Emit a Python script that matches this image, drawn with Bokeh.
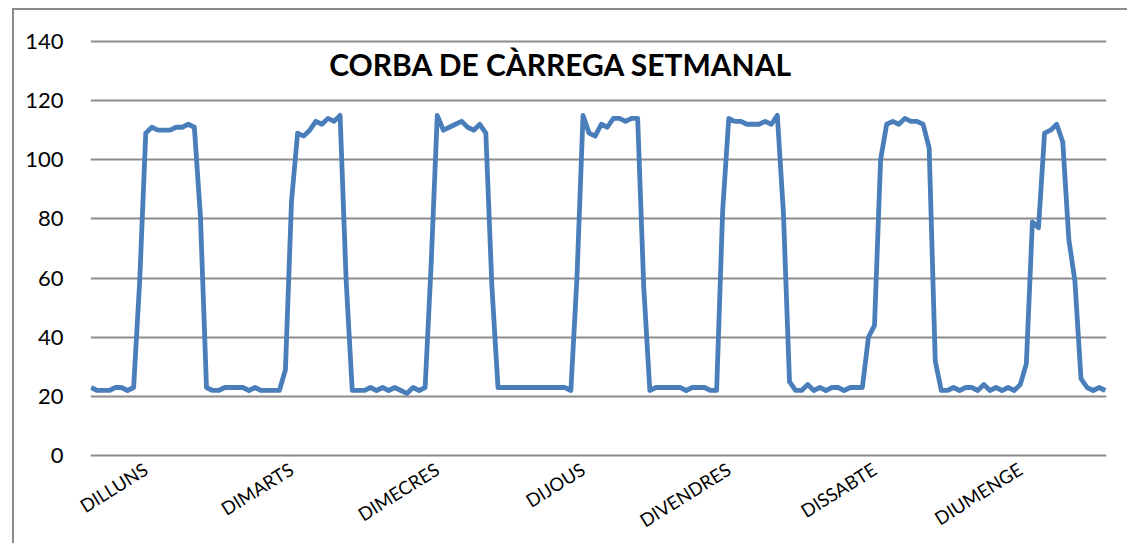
import math
from bokeh.plotting import figure
from bokeh.models import Range1d, FixedTicker, Label
from bokeh.embed import file_html
from bokeh.resources import INLINE

# ---- data: hourly load for each day (24 values per day) ----
days = ["DILLUNS", "DIMARTS", "DIMECRES", "DIJOUS", "DIVENDRES", "DISSABTE", "DIUMENGE"]

dilluns = [23, 22, 22, 22, 23, 23, 22, 23, 59, 109, 111, 110, 110, 110, 111, 111, 112, 111, 81, 23, 22, 22, 23, 23]
dimarts = [23, 23, 22, 23, 22, 22, 22, 22, 29, 86, 109, 108, 110, 113, 112, 114, 113, 115, 59, 22, 22, 22, 23, 22]
dimecres = [23, 22, 23, 22, 21, 23, 22, 23, 65, 115, 110, 111, 112, 113, 111, 110, 112, 109, 57, 23, 23, 23, 23, 23]
dijous = [23, 23, 23, 23, 23, 23, 23, 22, 60, 115, 109, 108, 112, 111, 114, 114, 113, 114, 114, 57, 22, 23, 23, 23]
divendres = [23, 23, 22, 23, 23, 23, 22, 22, 83, 114, 113, 113, 112, 112, 112, 113, 112, 115, 82, 25, 22, 22, 24, 22]
dissabte = [23, 22, 23, 23, 22, 23, 23, 23, 40, 44, 100, 112, 113, 112, 114, 113, 113, 112, 104, 32, 22, 22, 23, 22]
diumenge = [23, 23, 22, 24, 22, 23, 22, 23, 22, 24, 31, 79, 77, 109, 110, 112, 106, 73, 59, 26, 23, 22, 23, 22]

y_ticks = [0, 20, 40, 60, 80, 100, 120, 140]
title_text = "CORBA DE CÀRREGA SETMANAL"

load = dilluns + dimarts + dimecres + dijous + divendres + dissabte + diumenge
hours = list(range(len(load)))
HOURS_PER_DAY = 24
label_ticks = [9 + HOURS_PER_DAY * i for i in range(len(days))]

p = figure(width=1115, height=535, output_backend="svg", toolbar_location=None,
           x_range=Range1d(-0.1, 167.2), y_range=Range1d(-1, 141),
           min_border_left=76, min_border_right=23, min_border_top=28, min_border_bottom=87)
p.styles = {"border-left": "2px solid #8a8a8a", "border-top": "2px solid #8a8a8a",
            "margin-left": "12px", "margin-top": "8px"}
p.outline_line_color = None
p.background_fill_color = "white"
p.border_fill_color = "white"

p.xgrid.visible = False
p.ygrid.grid_line_color = "#8c8c8c"
p.ygrid.grid_line_width = 2
p.ygrid.ticker = FixedTicker(ticks=y_ticks)

p.line(hours, load, line_color="#4A7EBB", line_width=4.8, line_join="round")

ya = p.yaxis[0]
ya.ticker = FixedTicker(ticks=y_ticks)
ya.axis_line_color = None
ya.major_tick_line_color = None
ya.minor_tick_line_color = None
ya.major_tick_out = 0
ya.major_label_standoff = 27
ya.major_label_text_font = "Lato"
ya.major_label_text_font_size = "22px"
ya.major_label_text_color = "#000000"

xa = p.xaxis[0]
xa.ticker = FixedTicker(ticks=label_ticks)
xa.major_label_overrides = {t: d for t, d in zip(label_ticks, days)}
xa.major_label_orientation = math.radians(32)
xa.axis_line_color = None
xa.major_tick_line_color = None
xa.minor_tick_line_color = None
xa.major_tick_out = 0
xa.major_label_standoff = 9
xa.major_label_text_font = "Lato"
xa.major_label_text_font_size = "18.5px"
xa.major_label_text_color = "#000000"

title = Label(x=77.4, y=132.4, text=title_text, text_font="Lato", text_font_style="bold",
              text_font_size="30px", text_align="center", text_baseline="alphabetic",
              text_color="#000000")
p.add_layout(title)

open("out.html", "w").write(file_html(p, INLINE))
